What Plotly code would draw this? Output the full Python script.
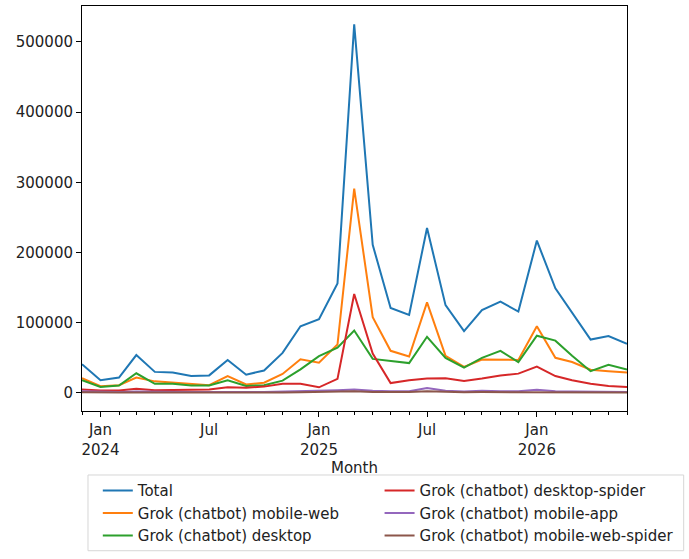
import plotly.graph_objects as go

months = [
    "2023-12-01",
    "2024-01-01", "2024-02-01", "2024-03-01", "2024-04-01", "2024-05-01", "2024-06-01",
    "2024-07-01", "2024-08-01", "2024-09-01", "2024-10-01", "2024-11-01", "2024-12-01",
    "2025-01-01", "2025-02-01", "2025-03-01", "2025-04-01", "2025-05-01", "2025-06-01",
    "2025-07-01", "2025-08-01", "2025-09-01", "2025-10-01", "2025-11-01", "2025-12-01",
    "2026-01-01", "2026-02-01", "2026-03-01", "2026-04-01", "2026-05-01", "2026-06-01",
]

total = [41000, 18000, 22000, 54000, 30000, 29000, 24000, 25000, 47000, 26000, 32000,
         57000, 95000, 105000, 156000, 525000, 211000, 121000, 111000, 235000, 125000,
         88000, 118000, 130000, 116000, 217000, 149000, 115000, 76000, 81000, 70000]
mobile_web = [21000, 9500, 11000, 22000, 16500, 14500, 12000, 11000, 24000, 12000, 14500,
              27000, 48000, 43000, 69000, 291000, 108000, 60000, 52000, 129000, 53000,
              37000, 47500, 47000, 47000, 95000, 50000, 44000, 33000, 31000, 29000]
desktop = [18000, 8500, 10500, 28000, 13000, 13000, 10500, 10500, 18000, 10000, 11000,
           17500, 33500, 52500, 64500, 89000, 48500, 46000, 42500, 80000, 50000,
           36000, 50000, 60000, 44000, 81500, 74500, 53000, 31000, 40000, 33500]
desktop_spider = [5000, 3500, 3500, 6000, 4000, 4000, 4000, 5000, 8000, 7500, 9000,
                  13000, 13000, 8000, 20000, 141000, 56000, 14000, 18000, 20500, 21000,
                  17000, 20500, 25000, 27500, 37500, 24000, 18000, 13000, 10000, 8500]
mobile_app = [2500, 1500, 1500, 2000, 1500, 1500, 1500, 1500, 2000, 1500, 1500,
              2000, 2500, 3000, 4000, 5000, 3000, 2500, 2500, 7000, 3000,
              2000, 3000, 2500, 2500, 4500, 2500, 2000, 1500, 1500, 1500]
mobile_web_spider = [1000, 500, 500, 800, 500, 500, 500, 500, 800, 500, 500,
                     800, 1000, 1500, 2000, 2500, 1500, 1500, 1200, 2500, 1500,
                     1000, 1200, 1000, 1000, 1500, 1000, 800, 700, 700, 600]

# first three go in the left legend column, the rest in the right one
series = [
    ("Total", total, "#1f77b4", "legend"),
    ("Grok (chatbot) mobile-web", mobile_web, "#ff7f0e", "legend"),
    ("Grok (chatbot) desktop", desktop, "#2ca02c", "legend"),
    ("Grok (chatbot) desktop-spider", desktop_spider, "#d62728", "legend2"),
    ("Grok (chatbot) mobile-app", mobile_app, "#9467bd", "legend2"),
    ("Grok (chatbot) mobile-web-spider", mobile_web_spider, "#8c564b", "legend2"),
]

tick_vals = ["2024-01-01", "2024-07-01", "2025-01-01", "2025-07-01", "2026-01-01"]
tick_text = ["Jan<br>2024", "Jul", "Jan<br>2025", "Jul", "Jan<br>2026"]

fig = go.Figure()

for name, values, color, leg in series:
    fig.add_trace(go.Scatter(
        x=months,
        y=values,
        mode="lines",
        name=name,
        line=dict(color=color, width=2),
        legend=leg
    ))

all_vals = [v for _, vals, _, _ in series for v in vals]
lo, hi = min(all_vals), max(all_vals)
pad = (hi - lo) * 0.05

legend_style = dict(
    orientation="v",
    xanchor="left",
    yanchor="top",
    bgcolor="rgba(0,0,0,0)",
    borderwidth=0,
    tracegroupgap=0,
    font=dict(size=15),
)

fig.update_layout(
    width=689,
    height=559,
    margin=dict(l=82, r=62, t=6, b=148, autoexpand=False),
    paper_bgcolor="white",
    plot_bgcolor="white",
    font=dict(family="DejaVu Sans", size=15, color="#222222"),
    showlegend=True,
    legend=dict(x=0.029, y=-0.156, **legend_style),
    legend2=dict(x=0.546, y=-0.156, **legend_style),
    shapes=[dict(
        type="rect",
        xref="paper",
        yref="paper",
        x0=0.011,
        x1=1.104,
        y0=-0.345,
        y1=-0.158,
        line=dict(color="#d6d6d6", width=1),
        fillcolor="rgba(0,0,0,0)",
        layer="below",
    )],
)

fig.update_xaxes(
    type="date",
    range=[months[0], months[-1]],
    tickvals=tick_vals,
    ticktext=tick_text,
    ticks="outside",
    ticklen=5,
    tickcolor="black",
    minor=dict(dtick="M1", ticks="outside", ticklen=3, tickcolor="black"),
    showline=True,
    linecolor="black",
    linewidth=1,
    mirror=True,
    showgrid=False,
    zeroline=False,
    title=dict(text="Month", standoff=4, font=dict(size=15)),
)

fig.update_yaxes(
    range=[lo - pad, hi + pad],
    tickvals=[0, 100000, 200000, 300000, 400000, 500000],
    ticktext=["0", "100000", "200000", "300000", "400000", "500000"],
    ticks="outside",
    ticklen=5,
    tickcolor="black",
    showline=True,
    linecolor="black",
    linewidth=1,
    mirror=True,
    showgrid=False,
    zeroline=False,
)

fig.write_html(
    "out.html",
    config={"displayModeBar": False},
    post_script="document.body.style.margin='0px';"
)
